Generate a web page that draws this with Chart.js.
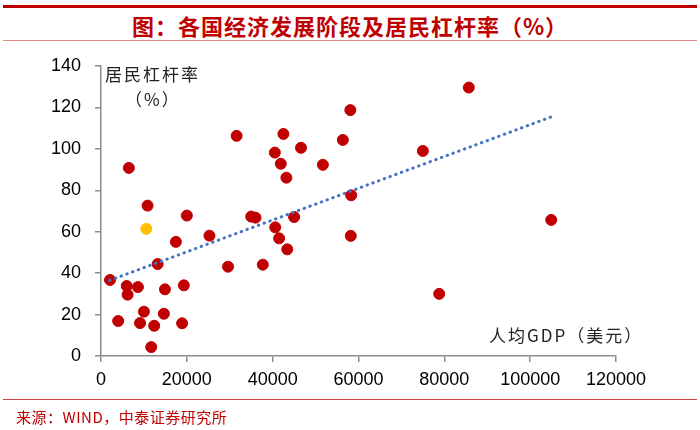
<!DOCTYPE html>
<html>
<head>
<meta charset="utf-8">
<script src="https://cdn.jsdelivr.net/npm/chart.js@4/dist/chart.umd.min.js"></script>
<style>
  body { margin: 0; width: 700px; height: 430px; background: #fff; position: relative; overflow: hidden; font-family: "Noto Sans CJK SC", sans-serif; }
  #chart { position: absolute; left: 0; top: 0; }
  .rule-top { position: absolute; left: 3px; right: 3px; top: 5px; height: 3px; background: #c00000; }
  .title { position: absolute; left: 0; right: 0; top: 10px; text-align: center; color: #c00000; font-size: 22px; font-weight: bold; line-height: 30px; letter-spacing: 1px; }
  .rule-mid { position: absolute; left: 3px; right: 3px; top: 40px; height: 1px; background: #e08888; }
  .rule-src { position: absolute; left: 3px; right: 3px; top: 399px; height: 1px; background: #d04040; }
  .source { position: absolute; left: 16px; top: 406px; color: #c00000; font-size: 15px; line-height: 22px; letter-spacing: 0.5px; }
</style>
</head>
<body>
<div class="rule-top"></div>
<div class="title">图：各国经济发展阶段及居民杠杆率（%）</div>
<div class="rule-mid"></div>
<canvas id="chart" width="700" height="430"></canvas>
<div class="rule-src"></div>
<div class="source">来源：WIND，中泰证券研究所</div>
<script>
// per-capita GDP (USD) and household leverage (%)
const gdp = [2100, 4000, 6000, 6200, 8600, 10000, 9100, 10850, 12400, 11700, 13200, 14900, 14650, 17450, 19300, 18900, 20000, 25270, 29600, 35000, 36000, 37700, 40600, 41500, 43400, 45000, 6500, 31600, 42500, 40500, 41900, 43200, 58100, 46600, 56350, 51700, 75000, 58300, 58200, 85700, 104900, 78800];
const leverage = [36.7, 16.9, 33.8, 29.6, 33.3, 21.4, 15.9, 72.6, 14.6, 4.3, 44.4, 32.2, 20.4, 55.1, 34.1, 15.8, 67.8, 58.1, 43.1, 67.3, 66.8, 44.1, 62.1, 56.8, 51.5, 67.1, 90.8, 106.3, 107.2, 98.2, 92.8, 86.1, 118.7, 100.5, 104.3, 92.3, 99, 77.6, 58, 129.6, 65.7, 30];
// highlighted point (China)
const chinaGdp = [10550];
const chinaLeverage = [61.4];
// trend line end points
const trendGdp = [2000, 105000];
const trendLeverage = [36.5, 115.5];
const yTicks = [0, 20, 40, 60, 80, 100, 120, 140];
const xTicks = [0, 20000, 40000, 60000, 80000, 100000, 120000];

const toPoints = (xs, ys) => xs.map((x, i) => ({ x, y: ys[i] }));

const axisTitles = {
  id: 'axisTitles',
  afterDraw(chart) {
    const { ctx, chartArea } = chart;
    ctx.save();
    ctx.fillStyle = '#222';
    ctx.font = '17px "Noto Sans CJK SC"';
    ctx.textBaseline = 'middle';
    ctx.letterSpacing = '2px';
    ctx.textAlign = 'left';
    ctx.fillText('居民杠杆率', chartArea.left + 4, 75);
    ctx.fillText('（%）', chartArea.left + 24, 100);
    ctx.fillText('人均GDP（美元）', 489, chartArea.bottom - 20);
    ctx.restore();
  }
};

const axisColor = '#8c8c8c';
const tickFont = { family: '"Liberation Sans", Arial, sans-serif', size: 18 };

new Chart(document.getElementById('chart'), {
  type: 'scatter',
  data: {
    datasets: [
      {
        type: 'line',
        data: toPoints(trendGdp, trendLeverage),
        borderColor: '#4472c4',
        borderWidth: 3,
        borderDash: [0.5, 5.6],
        borderCapStyle: 'round',
        pointRadius: 0,
        fill: false
      },
      {
        data: toPoints(chinaGdp, chinaLeverage),
        backgroundColor: '#ffc000',
        borderColor: '#ffc000',
        pointRadius: 5.5
      },
      {
        data: toPoints(gdp, leverage),
        backgroundColor: '#c00000',
        borderColor: '#c00000',
        pointRadius: 5.5
      }
    ]
  },
  options: {
    responsive: false,
    animation: false,
    layout: { padding: { left: 0, right: 84, top: 66, bottom: 30 } },
    plugins: { legend: { display: false }, tooltip: { enabled: false } },
    scales: {
      x: {
        type: 'linear',
        min: 0,
        max: 120000,
        afterBuildTicks: scale => { scale.ticks = xTicks.map(value => ({ value })); },
        afterFit: scale => { scale.height = 44; },
        ticks: { color: '#000', font: tickFont, padding: 7, maxRotation: 0, callback: v => String(v) },
        grid: { drawOnChartArea: false, drawTicks: true, tickLength: 6, color: axisColor, lineWidth: 1.5 },
        border: { color: axisColor, width: 1.5 }
      },
      y: {
        min: 0,
        max: 140,
        afterBuildTicks: scale => { scale.ticks = yTicks.map(value => ({ value })); },
        afterFit: scale => { scale.width = 101; },
        ticks: { color: '#000', font: tickFont, padding: 14 },
        grid: { drawOnChartArea: false, drawTicks: true, tickLength: 6, color: axisColor, lineWidth: 1.5 },
        border: { color: axisColor, width: 1.5 }
      }
    }
  },
  plugins: [axisTitles]
});
</script>
</body>
</html>
